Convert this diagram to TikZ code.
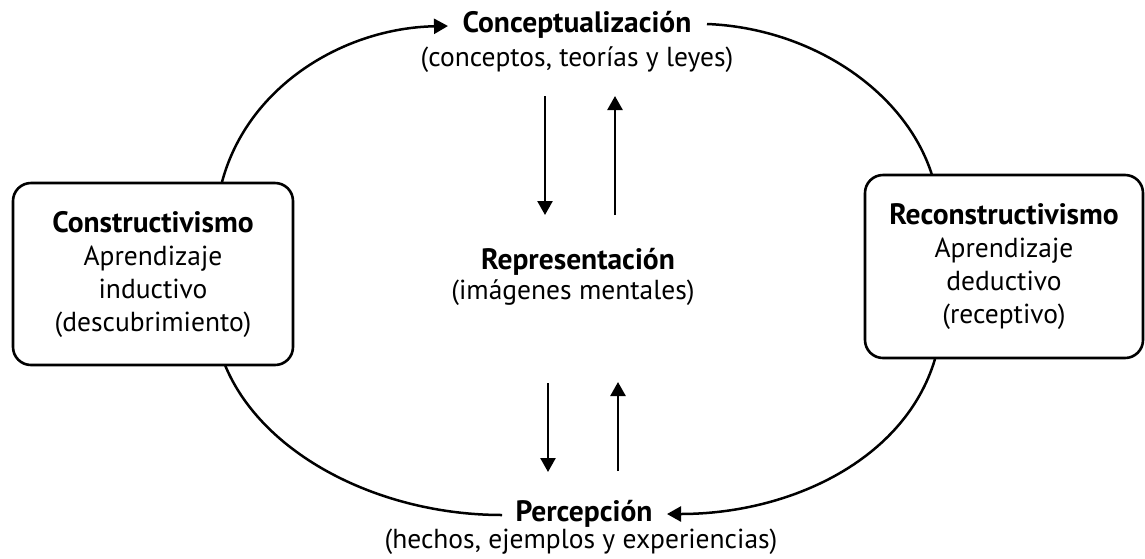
\documentclass[tikz,border=0pt]{standalone}
\usepackage{fontspec}
\setmainfont{PT Sans}
\usetikzlibrary{arrows.meta}
\begin{document}
\begin{tikzpicture}[x=1pt,y=-1pt,
  line width=2.5pt,
  every node/.style={inner sep=0pt, outer sep=0pt},
  head/.style={font=\fontsize{29.5}{33}\selectfont\bfseries},
  sub/.style={font=\fontsize{27.5}{33}\selectfont},
  box/.style={draw, rounded corners=18pt, line width=2.6pt, align=center,
    font=\fontsize{27.5}{33}\selectfont},
  arr/.style={-{Triangle[length=14pt,width=15pt]}},
]
\useasboundingbox (0,0) rectangle (1145,558);

% stage labels
\node[head] (concept) at (577,25) {Conceptualización};
\node[sub] (conceptsub) at (577,60) {(conceptos, teorías y leyes)};
\node[head] (repr) at (578,262) {Representación};
\node[sub] (reprsub) at (573,293) {(imágenes mentales)};
\node[head] (perc) at (584,514) {Percepción};
\node[sub] (percsub) at (581,542) {(hechos, ejemplos y experiencias)};

% learning styles
\node[box, minimum width=280pt, minimum height=182pt] (constr) at (153,274)
  {{\bfseries\fontsize{29.5}{33}\selectfont Constructivismo}\\Aprendizaje\\inductivo\\(descubrimiento)};
\node[box, minimum width=278pt, minimum height=183pt] (reconstr) at (1004,266.5)
  {{\bfseries\fontsize{29.5}{33}\selectfont Reconstructivismo}\\Aprendizaje\\deductivo\\(receptivo)};

% end points of the cycle arcs
\coordinate (tl) at (222,182);
\coordinate (tlend) at (448,26);
\coordinate (trstart) at (707,24);
\coordinate (tr) at (932,175);
\coordinate (bl) at (225,365);
\coordinate (blend) at (502,515);
\coordinate (br) at (935,359);
\coordinate (brend) at (667,514);

% cycle
\draw[arr] (tl) .. controls (248,85) and (345,28) .. (tlend);
\draw (trstart) .. controls (810,28) and (905,90) .. (tr);
\draw (bl) .. controls (262,455) and (380,515) .. (blend);
\draw[arr] (br) .. controls (905,460) and (790,514) .. (brend);

% vertical links with the representation
\coordinate (u1) at (545,96);  \coordinate (u1e) at (545,215);
\coordinate (u2) at (615,215); \coordinate (u2e) at (615,96);
\coordinate (d1) at (548,383); \coordinate (d1e) at (548,472);
\coordinate (d2) at (618,471); \coordinate (d2e) at (618,382);
\draw[arr] (u1) -- (u1e);
\draw[arr] (u2) -- (u2e);
\draw[arr] (d1) -- (d1e);
\draw[arr] (d2) -- (d2e);
\end{tikzpicture}
\end{document}
